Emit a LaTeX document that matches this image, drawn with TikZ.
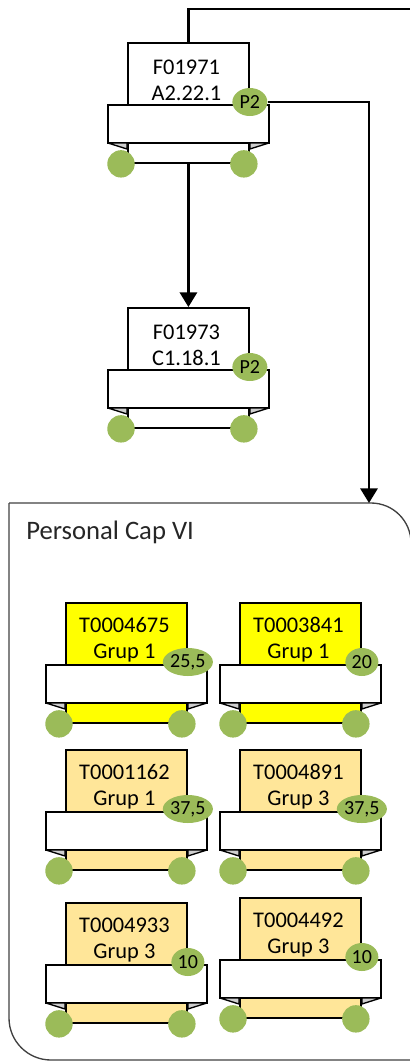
\documentclass[tikz,border=0pt]{standalone}
\usepackage{fontspec}
\setmainfont{Carlito}
\usetikzlibrary{calc,arrows.meta,shapes.geometric}
\definecolor{wgreen}{HTML}{9BBB59}
\definecolor{ytask}{HTML}{FFFF00}
\definecolor{ttask}{HTML}{FFE699}
\definecolor{foldgray}{HTML}{CFCFCF}
\definecolor{contline}{HTML}{404040}
\tikzset{
  boxbody/.style={draw=black, line width=1.4pt, minimum width=121*0.75pt, minimum height=120*0.75pt, inner sep=0pt},
  boxtxt/.style={align=center, inner sep=0pt, font=\fontsize{16.8}{19.5}\selectfont},
  banner/.style={draw=black, fill=white, line width=1.4pt},
  fold/.style={draw=black, fill=foldgray, line width=1pt, line join=round},
  wheel/.style={fill=wgreen},
  lbl/.style={ellipse, fill=wgreen, minimum height=28*0.75pt, inner sep=0pt, font=\fontsize{15}{15}\selectfont},
  conn/.style={draw=black, line width=1.6pt},
  tip/.style={-{Triangle[width=13pt,length=11pt]}}
}
\newcommand{\taskbox}[8]{%
  \node[boxbody, fill=#4, anchor=north west] (#1) at (#2,#3) {};
  \node[boxtxt] (#1t) at ($(#1.north)+(-2,38)$) {#5\\#6};
  \draw[banner] ($(#1.north west)+(-19,63)$) rectangle ($(#1.north east)+(19,101)$);
  \draw[fold] ($(#1.north west)+(-19,101)$) -- ($(#1.north west)+(0,107)$) -- ($(#1.north west)+(0,101)$) -- cycle;
  \draw[fold] ($(#1.north east)+(19,101)$) -- ($(#1.north east)+(0,107)$) -- ($(#1.north east)+(0,101)$) -- cycle;
  \fill[wheel] ($(#1.south west)+(-6,0)$) circle[radius=13.7*0.75pt];
  \fill[wheel] ($(#1.south east)+(-6,0)$) circle[radius=13.7*0.75pt];
  \node[lbl, minimum width=#8*0.75pt] (#1l) at ($(#1.north east)+(0,60)$) {#7};
}
\begin{document}
\begin{tikzpicture}[x=0.75pt,y=-0.75pt]
\useasboundingbox (0,0) rectangle (410,1061);
\clip (0,0) rectangle (410,1061);
% container
\draw[contline, line width=1pt] (9,503) -- (371,503) arc[start angle=90, end angle=0, radius=40*0.75pt] -- (411,1070);
\draw[contline, line width=1pt] (9,503) -- (9,1018) arc[start angle=180, end angle=270, radius=42*0.75pt] -- (420,1060);
\coordinate (conttop) at (369,503);
\node[anchor=west, inner sep=0pt, text=black!85, font=\fontsize{20}{20}\selectfont] (title) at (26,532) {Personal Cap VI};
% upper boxes
\taskbox{fa}{127}{42}{white}{F01971}{A2.22.1}{P2}{35}
\taskbox{fb}{127}{307}{white}{F01973}{C1.18.1}{P2}{35}
% tasks
\taskbox{ta}{65}{602}{ytask}{T0004675}{Grup 1}{25,5}{47}
\taskbox{tb}{239}{602}{ytask}{T0003841}{Grup 1}{20}{33}
\taskbox{tc}{65}{749}{ttask}{T0001162}{Grup 1}{37,5}{48}
\taskbox{td}{239}{749}{ttask}{T0004891}{Grup 3}{37,5}{48}
\taskbox{te}{65}{902}{ttask}{T0004933}{Grup 3}{10}{33}
\taskbox{tf}{239}{897}{ttask}{T0004492}{Grup 3}{10}{33}
% connectors
\coordinate (topend) at (412,9);
\draw[conn] (fa.north) |- (topend);
\draw[conn, tip] (fa.south) -- (fb.north);
\draw[conn, tip] (fal.east) -| (conttop);
\end{tikzpicture}
\end{document}
